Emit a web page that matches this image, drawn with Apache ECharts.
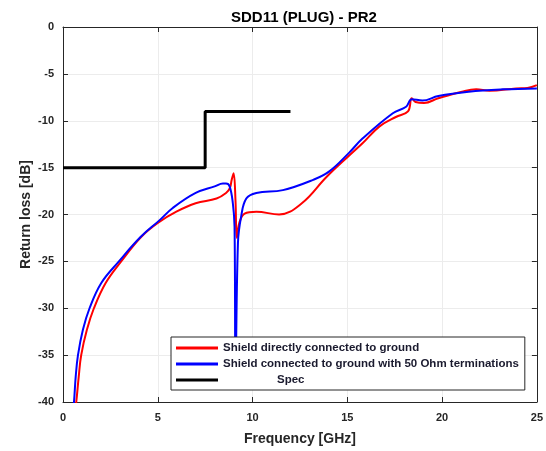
<!DOCTYPE html>
<html>
<head>
<meta charset="utf-8">
<script src="https://cdn.jsdelivr.net/npm/echarts@6/dist/echarts.min.js"></script>
<style>
html,body{margin:0;padding:0;background:#fff;}
#main{width:546px;height:451px;}
</style>
</head>
<body>
<div id="main"></div>
<script>
// values (frequency in GHz, return loss in dB)
var freqRed = [0.6, 0.7, 0.83, 0.96, 1.26, 1.63, 2.25, 3.07, 4.12, 5.0, 5.98, 7.0, 8.1, 8.6, 8.8, 8.9, 9.0, 9.1, 9.17, 9.3, 9.58, 10.2, 11.4, 12.6, 13.9, 15.1, 15.8, 16.7, 17.56, 18.2, 18.4, 18.6, 19.05, 19.8, 21.05, 21.8, 22.5, 23.9, 24.5, 25];
var lossRed = [-41.5, -40, -37.3, -35, -32.3, -30, -27.3, -25, -22.4, -20.9, -19.7, -18.8, -18.3, -17.7, -17.2, -16.3, -15.6, -18.5, -22.5, -20.9, -19.9, -19.7, -20.0, -18.8, -16.0, -13.7, -12.4, -10.6, -9.6, -9.0, -7.6, -8.0, -8.1, -7.6, -6.9, -6.65, -6.8, -6.55, -6.5, -6.2];

var freqBlue = [0.5, 0.58, 0.67, 0.79, 1.05, 1.4, 2.02, 2.95, 4.09, 5.1, 5.79, 7.0, 8.0, 8.44, 8.6, 8.79, 8.96, 9.05, 9.1, 9.23, 9.4, 9.67, 10.2, 11.6, 13.2, 14.05, 15.1, 15.8, 17.4, 18.1, 18.4, 18.96, 19.8, 21.4, 23.2, 25];
var lossBlue = [-41.5, -40, -37.3, -35, -32.3, -30, -27.3, -25, -22.4, -20.6, -19.3, -17.7, -17.0, -16.7, -16.7, -17.0, -18.8, -21.3, -38, -23.0, -20.2, -18.3, -17.7, -17.4, -16.3, -15.4, -13.4, -11.9, -9.2, -8.5, -7.7, -7.85, -7.36, -6.9, -6.65, -6.55];

var specFreq = [0, 7.5, 7.5, 12];
var specLoss = [-15, -15, -9, -9];

var seriesNames = ['Shield directly connected to ground', 'Shield connected to ground with 50 Ohm terminations', 'Spec'];

function pairs(xs, ys){
	return xs.map(function(x, i){ return [x, ys[i]]; });
}

var myChart = echarts.init(document.getElementById('main'));
var labelStyle = {color: '#262626', fontSize: 11, fontWeight: 'bold', fontFamily: 'Liberation Sans'};
var lineStyleAxis = {color: '#262626', width: 1};

var option = {
	animation: false,
	title: {
		text: 'SDD11 (PLUG) - PR2',
		left: 226,
		top: 5,
		textStyle: {fontSize: 15, fontWeight: 'bold', color: '#000', fontFamily: 'Liberation Sans'}
	},
	grid: {left: 63, right: 8, top: 27, bottom: 49},
	legend: {
		orient: 'vertical',
		left: 171,
		top: 337,
		padding: [4, 6, 3, 5],
		itemGap: 2,
		itemWidth: 42,
		itemHeight: 3,
		backgroundColor: '#fff',
		borderColor: '#262626',
		borderWidth: 1,
		borderRadius: 0,
		icon: 'rect',
		data: seriesNames,
		formatter: function(name){
			return name == 'Spec' ? '{s|Spec}' : name;
		},
		textStyle: {
			color: '#1a1a2e', fontSize: 11.5, fontWeight: 'bold', fontFamily: 'Liberation Sans', lineHeight: 14,
			rich: {s: {padding: [0, 0, 0, 54], fontSize: 11.5, fontWeight: 'bold', color: '#1a1a2e', fontFamily: 'Liberation Sans'}}
		}
	},
	xAxis: [{
		type: 'value', min: 0, max: 25, interval: 5,
		name: 'Frequency [GHz]', nameLocation: 'middle', nameGap: 30,
		nameTextStyle: {fontSize: 14, fontWeight: 'bold', color: '#262626', fontFamily: 'Liberation Sans'},
		axisLine: {onZero: false, lineStyle: lineStyleAxis},
		axisTick: {inside: true, length: 5, lineStyle: lineStyleAxis},
		axisLabel: Object.assign({margin: 10}, labelStyle),
		splitLine: {show: true, lineStyle: {color: '#ececec', width: 1}}
	}, {
		type: 'value', position: 'top', min: 0, max: 25, interval: 5,
		axisLine: {onZero: false, lineStyle: lineStyleAxis},
		axisTick: {inside: true, length: 5, lineStyle: lineStyleAxis},
		axisLabel: {show: false},
		splitLine: {show: false}
	}],
	yAxis: [{
		type: 'value', min: -40, max: 0, interval: 5,
		name: 'Return loss [dB]', nameLocation: 'middle', nameGap: 30, nameMoveOverlap: false,
		nameTextStyle: {fontSize: 14, fontWeight: 'bold', color: '#262626', fontFamily: 'Liberation Sans'},
		axisLine: {show: true, onZero: false, lineStyle: lineStyleAxis},
		axisTick: {show: true, inside: true, length: 5, lineStyle: lineStyleAxis},
		axisLabel: Object.assign({margin: 9}, labelStyle),
		splitLine: {show: true, lineStyle: {color: '#ececec', width: 1}}
	}, {
		type: 'value', position: 'right', min: -40, max: 0, interval: 5,
		axisLine: {show: true, onZero: false, lineStyle: lineStyleAxis},
		axisTick: {show: true, inside: true, length: 5, lineStyle: lineStyleAxis},
		axisLabel: {show: false},
		splitLine: {show: false}
	}],
	series: [{
		name: seriesNames[0], type: 'line', data: pairs(freqRed, lossRed),
		showSymbol: false, smooth: 0.4,
		color: '#ff0000', lineStyle: {color: '#ff0000', width: 2}
	}, {
		name: seriesNames[1], type: 'line', data: pairs(freqBlue, lossBlue),
		showSymbol: false, smooth: 0.4,
		color: '#0000ff', lineStyle: {color: '#0000ff', width: 2}
	}, {
		name: seriesNames[2], type: 'line', data: pairs(specFreq, specLoss),
		showSymbol: false,
		color: '#000000', lineStyle: {color: '#000000', width: 3}
	}]
};

myChart.setOption(option);
</script>
</body>
</html>
